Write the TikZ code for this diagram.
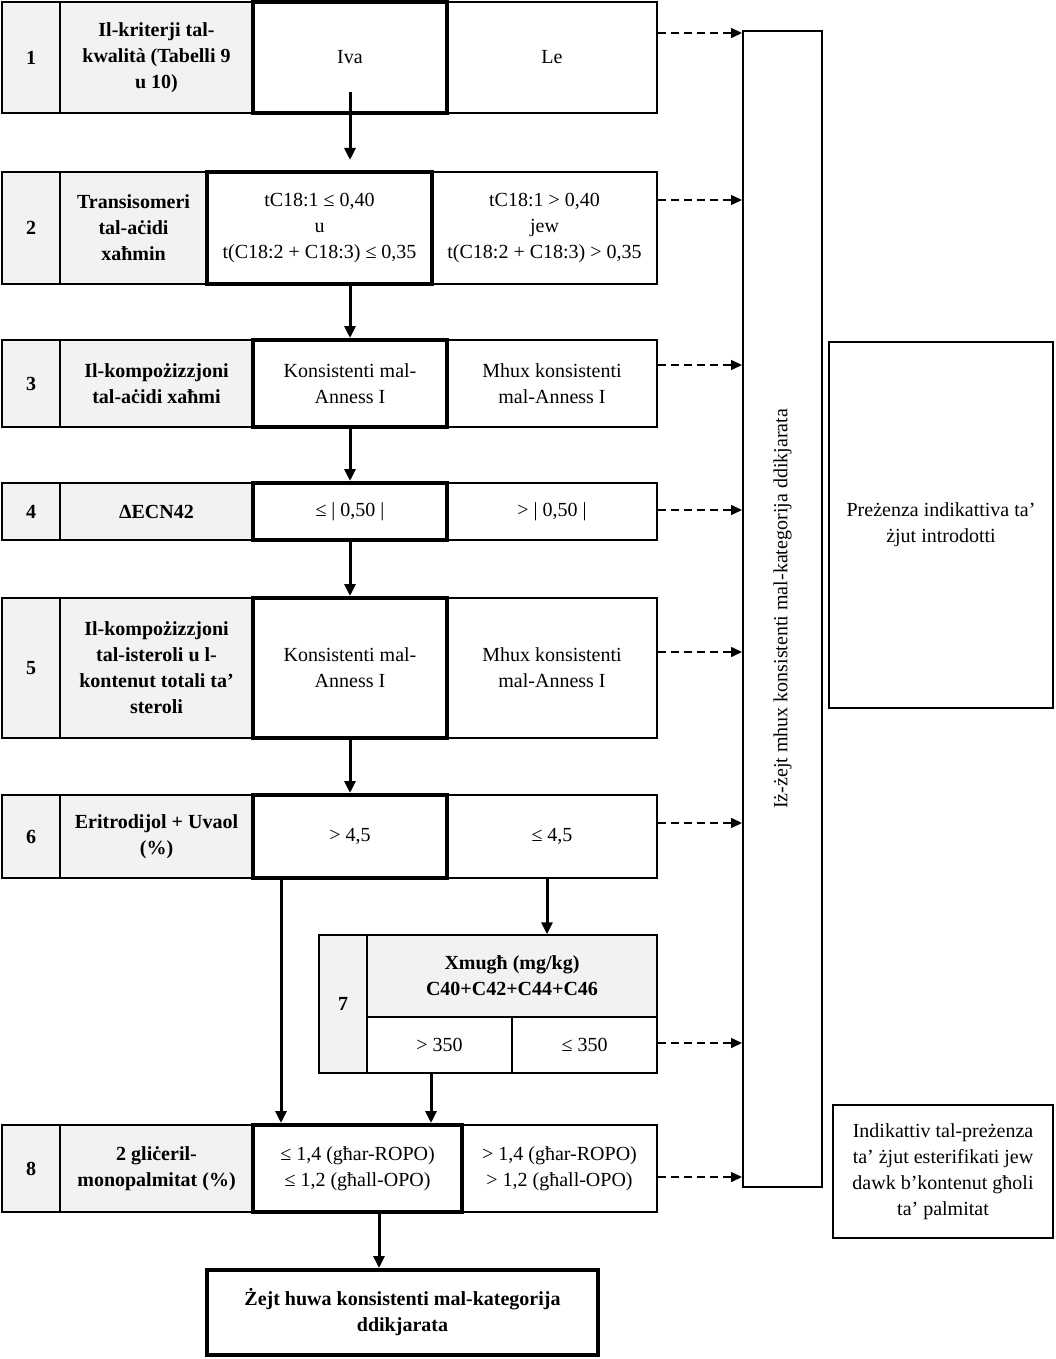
\documentclass[tikz,border=0pt]{standalone}
\usepackage{fontspec}
\setmainfont{Liberation Serif}
\usetikzlibrary{arrows.meta}
\definecolor{cellgray}{HTML}{F2F2F2}
\newcommand\cellat[7]{\node[#1, minimum width={#4-#3}, minimum height={#6-#5}] (#2) at ({(#3+#4)/2},{(#5+#6)/2}) {#7};}
\begin{document}
\begin{tikzpicture}[x=1pt,y=-1pt,
 every node/.style={font=\fontsize{20}{26}\selectfont},
 cell/.style={draw, line width=1.5pt, rectangle, inner sep=0pt, align=center},
 gcell/.style={cell, fill=cellgray, font=\fontsize{20}{26}\selectfont\bfseries},
 tcell/.style={cell, line width=4pt},
 obox/.style={cell, line width=2pt},
 arr/.style={line width=3pt, -{Triangle[length=12pt,width=11pt]}},
 darr/.style={line width=1.5pt, dash pattern=on 8pt off 5pt, -{Triangle[length=11pt,width=10pt]}},
]
\useasboundingbox[fill=white] (0,0) rectangle (1055,1359);

% Row 1
\cellat{gcell}{n1}{2}{60}{2}{113}{1}
\cellat{gcell}{l1}{60}{253}{2}{113}{Il-kriterji tal-\\kwalità (Tabelli 9\\u 10)}
\cellat{cell}{b1}{447}{657}{2}{113}{Le}
\cellat{tcell}{a1}{253}{447}{2}{113}{Iva}

% Row 2
\cellat{gcell}{n2}{2}{60}{172}{284}{2}
\cellat{gcell}{l2}{60}{207}{172}{284}{Transisomeri\\tal-aċidi\\xaħmin}
\cellat{cell}{b2}{432}{657}{172}{284}{tC18:1 > 0,40\\jew\\t(C18:2 + C18:3) > 0,35}
\cellat{tcell}{a2}{207}{432}{172}{284}{tC18:1 ≤ 0,40\\u\\t(C18:2 + C18:3) ≤ 0,35}

% Row 3
\cellat{gcell}{n3}{2}{60}{340}{427}{3}
\cellat{gcell}{l3}{60}{253}{340}{427}{Il-kompożizzjoni\\tal-aċidi xaħmi}
\cellat{cell}{b3}{447}{657}{340}{427}{Mhux konsistenti\\mal-Anness I}
\cellat{tcell}{a3}{253}{447}{340}{427}{Konsistenti mal-\\Anness I}

% Row 4
\cellat{gcell}{n4}{2}{60}{483}{540}{4}
\cellat{gcell}{l4}{60}{253}{483}{540}{ΔECN42}
\cellat{cell}{b4}{447}{657}{483}{540}{> | 0,50 |}
\cellat{tcell}{a4}{253}{447}{483}{540}{≤ | 0,50 |}

% Row 5
\cellat{gcell}{n5}{2}{60}{598}{738}{5}
\cellat{gcell}{l5}{60}{253}{598}{738}{Il-kompożizzjoni\\tal-isteroli u l-\\kontenut totali ta'\\steroli}
\cellat{cell}{b5}{447}{657}{598}{738}{Mhux konsistenti\\mal-Anness I}
\cellat{tcell}{a5}{253}{447}{598}{738}{Konsistenti mal-\\Anness I}

% Row 6
\cellat{gcell}{n6}{2}{60}{795}{878}{6}
\cellat{gcell}{l6}{60}{253}{795}{878}{Eritrodijol + Uvaol\\(\%)}
\cellat{cell}{b6}{447}{657}{795}{878}{≤ 4,5}
\cellat{tcell}{a6}{253}{447}{795}{878}{> 4,5}

% Row 7
\cellat{gcell}{n7}{319}{367}{935}{1073}{7}
\cellat{gcell}{h7}{367}{657}{935}{1017}{Xmugħ (mg/kg)\\C40+C42+C44+C46}
\cellat{cell}{a7}{367}{512}{1017}{1073}{> 350}
\cellat{cell}{b7}{512}{657}{1017}{1073}{≤ 350}

% Row 8
\cellat{gcell}{n8}{2}{60}{1125}{1212}{8}
\cellat{gcell}{l8}{60}{253}{1125}{1212}{2 gliċeril-\\monopalmitat (\%)}
\cellat{cell}{b8}{462}{657}{1125}{1212}{> 1,4 (għar-ROPO)\\> 1,2 (għall-OPO)}
\cellat{tcell}{a8}{253}{462}{1125}{1212}{≤ 1,4 (għar-ROPO)\\≤ 1,2 (għall-OPO)}

% Final
\cellat{tcell}{fin}{207}{598}{1270}{1355}{\bfseries Żejt huwa konsistenti mal-kategorija\\\bfseries ddikjarata}

% Right side boxes
\cellat{obox}{big}{743}{822}{31}{1187}{}
\node[rotate=90] (bigt) at (big.center) {Iż-żejt mhux konsistenti mal-kategorija ddikjarata};
\cellat{obox}{r1}{829}{1053}{342}{708}{Preżenza indikattiva ta'\\żjut introdotti}
\cellat{obox}{r2}{833}{1053}{1105}{1238}{Indikattiv tal-preżenza\\ta' żjut esterifikati jew\\dawk b'kontenut għoli\\ta' palmitat}

% helper coordinates
\coordinate (s1) at (350,92);
\coordinate (e1) at (350,160);
\coordinate (x350) at (350,0);
\coordinate (x281) at (281,0);
\coordinate (x431) at (431,0);
\coordinate (x547) at (547,0);
\coordinate (x379) at (379,0);

% Solid arrows
\draw[arr] (s1) -- (e1);
\draw[arr] (a2.south -| x350) -- (a3.north -| x350);
\draw[arr] (a3.south -| x350) -- (a4.north -| x350);
\draw[arr] (a4.south -| x350) -- (a5.north -| x350);
\draw[arr] (a5.south -| x350) -- (a6.north -| x350);
\draw[arr] (b6.south -| x547) -- (h7.north -| x547);
\draw[arr] (a6.south -| x281) -- (a8.north -| x281);
\draw[arr] (a7.south -| x431) -- (a8.north -| x431);
\draw[arr] (a8.south -| x379) -- (fin.north -| x379);

% Dashed arrows
\coordinate (y1) at (0,33);
\coordinate (y2) at (0,200);
\coordinate (y3) at (0,365);
\coordinate (y4) at (0,510);
\coordinate (y5) at (0,652);
\coordinate (y6) at (0,823);
\coordinate (y7) at (0,1043);
\coordinate (y8) at (0,1177);
\draw[darr] (b1.east |- y1) -- (big.west |- y1);
\draw[darr] (b2.east |- y2) -- (big.west |- y2);
\draw[darr] (b3.east |- y3) -- (big.west |- y3);
\draw[darr] (b4.east |- y4) -- (big.west |- y4);
\draw[darr] (b5.east |- y5) -- (big.west |- y5);
\draw[darr] (b6.east |- y6) -- (big.west |- y6);
\draw[darr] (b7.east |- y7) -- (big.west |- y7);
\draw[darr] (b8.east |- y8) -- (big.west |- y8);
\end{tikzpicture}
\end{document}
